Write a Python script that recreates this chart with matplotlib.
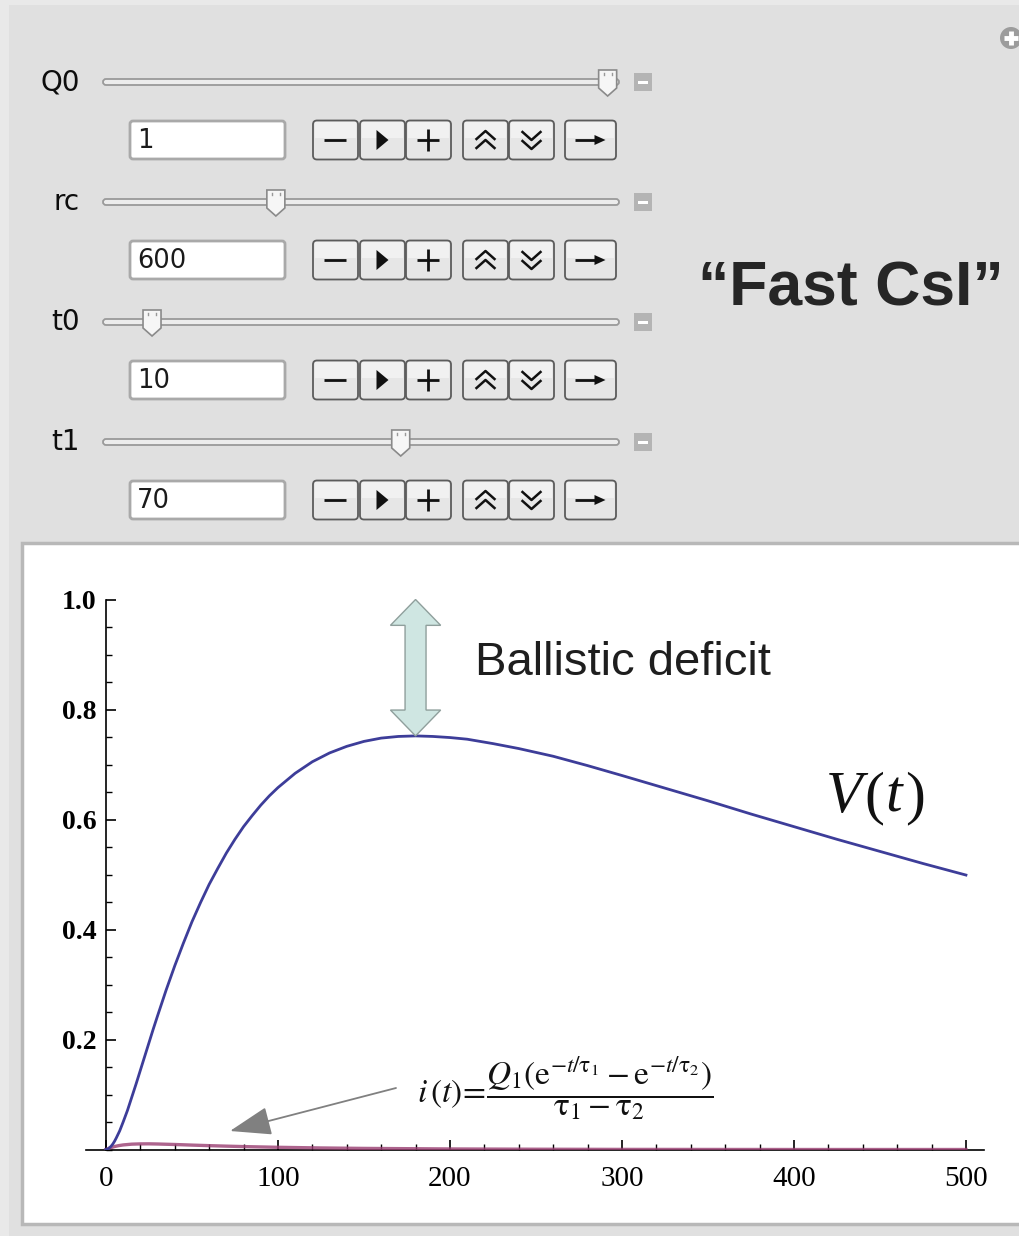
import numpy as np
import matplotlib.pyplot as plt
from matplotlib.patches import Rectangle, FancyBboxPatch, Polygon, Circle, FancyArrowPatch
from matplotlib.ticker import MultipleLocator, FixedLocator, FormatStrFormatter

plt.rcParams['mathtext.fontset'] = 'stix'

W, H = 1019, 1236

# Manipulate controls
ctrl_names = ['Q0', 'rc', 't0', 't1']
ctrl_values = ['1', '600', '10', '70']
ctrl_frac = [0.978, 0.335, 0.095, 0.577]   # slider knob position along the track

# V(t): shaped pulse for t0 = 10, t1 = 70, rc = 600
t_v = [0, 1.5, 3, 4, 5, 6, 8, 10, 12.5, 15, 17.5, 20, 22.5, 25, 27.5, 30, 35,
       40, 45, 50, 55, 60, 65, 70, 75, 80, 85, 90, 95, 100, 110, 120, 130, 140,
       150, 160, 170, 180, 190, 200, 210, 225, 240, 260, 280, 300, 325, 350,
       375, 400, 425, 450, 475, 500]
v = [0, 0.0015, 0.006, 0.010, 0.015, 0.021, 0.034, 0.050, 0.071, 0.095, 0.119,
     0.144, 0.169, 0.194, 0.219, 0.243, 0.290, 0.334, 0.375, 0.414, 0.449,
     0.482, 0.511, 0.539, 0.564, 0.587, 0.607, 0.626, 0.643, 0.658, 0.684,
     0.705, 0.721, 0.733, 0.742, 0.748, 0.751, 0.752, 0.751, 0.749, 0.746,
     0.738, 0.729, 0.715, 0.698, 0.680, 0.657, 0.634, 0.610, 0.587, 0.564,
     0.542, 0.520, 0.499]

# i(t): detector current
t_i = [0, 2.5, 5, 7.5, 10, 15, 20, 25, 30, 40, 50, 60, 70, 80, 100, 125, 150,
       200, 250, 300, 400, 500]
cur = [0, 0.0031, 0.0054, 0.0071, 0.0083, 0.0097, 0.0102, 0.0103, 0.0100,
       0.0091, 0.0080, 0.0070, 0.0061, 0.0053, 0.0040, 0.0028, 0.0020, 0.0010,
       0.0005, 0.0002, 0.0, 0.0]

xticks = [0, 100, 200, 300, 400, 500]
yticks = [0.2, 0.4, 0.6, 0.8, 1.0]

fig = plt.figure(figsize=(W / 100, H / 100), dpi=100, facecolor='#e0e0e0')

# ---- control panel, drawn in pixel coordinates ----
bg = fig.add_axes([0, 0, 1, 1], zorder=0)
bg.set_xlim(0, W)
bg.set_ylim(H, 0)
bg.axis('off')

bg.add_patch(Rectangle((0, 0), W, 5, fc='#e9e9e9', ec='none'))
bg.add_patch(Rectangle((0, 0), 9, H, fc='#e9e9e9', ec='none'))

# expand icon, top right
bg.add_patch(Circle((1011, 38), 11, fc='#9c9c9c', ec='none'))
bg.plot([1004, 1018], [38, 38], color='white', lw=3.5, solid_capstyle='butt')
bg.plot([1011, 1011], [31, 45], color='white', lw=3.5, solid_capstyle='butt')


def button(x0, w, cy, kind):
    bg.add_patch(FancyBboxPatch((x0, cy - 19.5), w, 39,
                                boxstyle='round,pad=0,rounding_size=4',
                                fc='#e6e6e6', ec='#5c5c5c', lw=1.3))
    bg.add_patch(Rectangle((x0 + 2, cy - 18), w - 4, 16, fc='#f1f1f1', ec='none'))
    cx = x0 + w / 2
    k = dict(color='#111111', lw=2.0, solid_capstyle='butt')
    if kind == 'minus':
        bg.plot([cx - 11, cx + 11], [cy, cy], **k)
    elif kind == 'play':
        bg.add_patch(Polygon([(cx - 6, cy - 10), (cx - 6, cy + 10), (cx + 6, cy)],
                             fc='#111111', ec='none'))
    elif kind == 'plus':
        bg.plot([cx - 11, cx + 11], [cy, cy], **k)
        bg.plot([cx, cx], [cy - 11, cy + 11], **k)
    elif kind == 'up':
        for d in (-5, 4):
            bg.plot([cx - 9, cx, cx + 9], [cy + d + 4, cy + d - 4, cy + d + 4],
                    color='#111111', lw=1.8)
    elif kind == 'down':
        for d in (-4, 5):
            bg.plot([cx - 9, cx, cx + 9], [cy + d - 4, cy + d + 4, cy + d - 4],
                    color='#111111', lw=1.8)
    elif kind == 'go':
        bg.plot([cx - 15, cx + 6], [cy, cy], **k)
        bg.add_patch(Polygon([(cx + 4, cy - 5), (cx + 15, cy), (cx + 4, cy + 5)],
                             fc='#111111', ec='none'))


buttons = [(313, 45, 'minus'), (360, 45, 'play'), (406, 45, 'plus'),
           (463, 45, 'up'), (509, 45, 'down'), (565, 51, 'go')]

for row, (name, val, frac) in enumerate(zip(ctrl_names, ctrl_values, ctrl_frac)):
    sy = 82 + 120 * row
    by = sy + 58
    bg.text(80, sy, name, ha='right', va='center', fontsize=20,
            family='DejaVu Sans', color='#0d0d0d')
    bg.add_patch(FancyBboxPatch((103, sy - 3), 516, 6,
                                boxstyle='round,pad=0,rounding_size=3',
                                fc='#ececec', ec='#9a9a9a', lw=1.3))
    kx = 103 + frac * 516
    bg.add_patch(Polygon([(kx - 9, sy - 12), (kx + 9, sy - 12), (kx + 9, sy + 6),
                          (kx, sy + 14), (kx - 9, sy + 6)],
                         fc='#f6f6f6', ec='#8a8a8a', lw=1.2))
    bg.plot([kx - 4, kx - 4], [sy - 9, sy - 7], color='#999999', lw=1)
    bg.plot([kx + 4, kx + 4], [sy - 9, sy - 7], color='#999999', lw=1)
    bg.add_patch(Rectangle((634, sy - 9), 18, 18, fc='#b4b4b4', ec='none'))
    bg.add_patch(Rectangle((638, sy - 1.5), 10, 3, fc='white', ec='none'))

    bg.add_patch(FancyBboxPatch((130, by - 19), 155, 38,
                                boxstyle='round,pad=0,rounding_size=3',
                                fc='white', ec='#a9a9a9', lw=2))
    bg.text(137, by + 1, val, ha='left', va='center', fontsize=18.5,
            family='DejaVu Sans', color='#1a1a1a')
    for x0, w, kind in buttons:
        button(x0, w, by, kind)

bg.text(698, 305, '\u201cFast CsI\u201d', ha='left', va='baseline', fontsize=45,
        family='Liberation Sans', weight='bold', color='#262626')

# white plot panel
bg.add_patch(Rectangle((22, 543), 1010, 681, fc='white', ec='#b8b8b8', lw=2.5))

# ---- plot ----
ax = fig.add_axes([86 / W, 1 - 1149.5 / H, (984 - 86) / W, 550 / H], zorder=2)
ax.patch.set_alpha(0)
ax.set_xlim(-11.6, 510.5)
ax.set_ylim(0, 1)

ax.plot(t_i, cur, color='#993d71', lw=2.4, alpha=0.8, zorder=3)
ax.plot(t_v, v, color='#3d3d99', lw=2.0, zorder=4)

for side in ('top', 'right'):
    ax.spines[side].set_visible(False)
ax.spines['left'].set_position(('data', 0))
for side in ('left', 'bottom'):
    ax.spines[side].set_linewidth(1.2)

ax.xaxis.set_major_locator(FixedLocator(xticks))
ax.xaxis.set_minor_locator(MultipleLocator(20))
ax.yaxis.set_major_locator(FixedLocator(yticks))
ax.yaxis.set_minor_locator(MultipleLocator(0.05))
ax.xaxis.set_major_formatter(FormatStrFormatter('%d'))
ax.yaxis.set_major_formatter(FormatStrFormatter('%.1f'))
ax.tick_params(which='major', direction='in', length=7, width=1.2)
ax.tick_params(which='minor', direction='in', length=4, width=1.0)
ax.tick_params(axis='y', which='major', pad=7)
ax.tick_params(axis='x', which='major', pad=12)
for lab in ax.get_yticklabels():
    lab.set_fontfamily('Liberation Serif')
    lab.set_fontweight('bold')
    lab.set_fontsize(20)
for lab in ax.get_xticklabels():
    lab.set_fontfamily('Liberation Serif')
    lab.set_fontsize(21)

# ballistic deficit: double arrow from the V(t) maximum up to 1.0
i_pk = int(np.argmax(v))
xc, bot, top = t_v[i_pk], v[i_pk], 1.0
sw, hw, hl = 6.1, 14.6, 0.047
ax.add_patch(Polygon([(xc, top), (xc + hw, top - hl), (xc + sw, top - hl),
                      (xc + sw, bot + hl), (xc + hw, bot + hl), (xc, bot),
                      (xc - hw, bot + hl), (xc - sw, bot + hl),
                      (xc - sw, top - hl), (xc - hw, top - hl)],
                     closed=True, fc='#cfe6e2', ec='#8f9f9c', lw=1.0,
                     clip_on=False, zorder=5))

# ---- annotations on top ----
top_ax = fig.add_axes([0, 0, 1, 1], zorder=3)
top_ax.patch.set_alpha(0)
top_ax.set_xlim(0, W)
top_ax.set_ylim(H, 0)
top_ax.axis('off')

top_ax.text(475, 675, 'Ballistic deficit', ha='left', va='baseline', fontsize=34,
            family='Liberation Sans', color='#1e1e1e')

for x0, s, style in [(826, 'V', 'italic'), (864, '(', 'normal'),
                     (885, 't', 'italic'), (905, ')', 'normal')]:
    top_ax.text(x0, 812, s, ha='left', va='baseline', fontsize=43,
                family='Liberation Serif', style=style, color='#111111')

top_ax.text(417, 1089,
            r'$i\,(t)\!=\!\dfrac{Q_1(\mathrm{e}^{-t/\mathrm{\tau}_1}-\mathrm{e}^{-t/\mathrm{\tau}_2})}'
            r'{\mathrm{\tau}_1-\mathrm{\tau}_2}$',
            ha='left', va='center', fontsize=24, color='#111111')

top_ax.add_patch(FancyArrowPatch((396, 1088), (230, 1131),
                                 arrowstyle='-|>,head_length=1.3,head_width=0.45',
                                 mutation_scale=20, color='#808080', lw=1.3,
                                 shrinkA=0, shrinkB=0))

fig.savefig('out.png', dpi=100, facecolor=fig.get_facecolor())
